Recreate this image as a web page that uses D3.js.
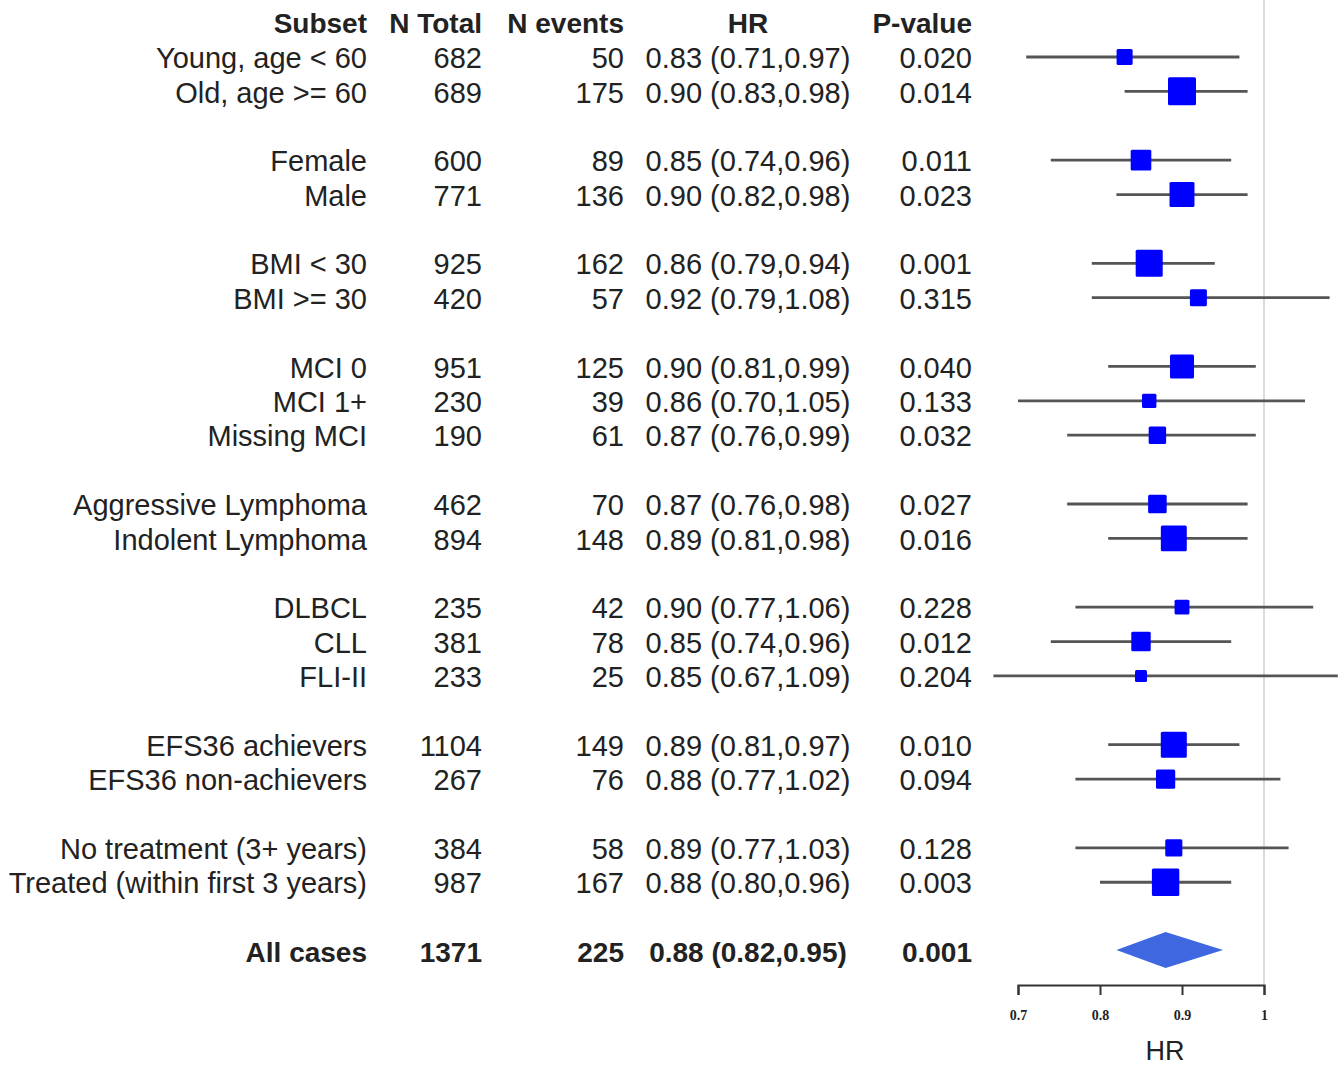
<!DOCTYPE html>
<meta charset="utf-8">
<script src="https://d3js.org/d3.v7.min.js"></script>
<style>
  body { margin: 0; background: #fff; }
  text { font-family: "Liberation Sans", Arial, sans-serif; fill: #222; }
</style>
<div id="my_dataviz"></div>
<script>

// data
var subsets = ["Young, age < 60", "Old, age >= 60", "Female", "Male", "BMI < 30", "BMI >= 30",
  "MCI 0", "MCI 1+", "Missing MCI", "Aggressive Lymphoma", "Indolent Lymphoma",
  "DLBCL", "CLL", "FLI-II", "EFS36 achievers", "EFS36 non-achievers",
  "No treatment (3+ years)", "Treated (within first 3 years)"];
var groups  = [0, 0, 1, 1, 2, 2, 3, 3, 3, 4, 4, 5, 5, 5, 6, 6, 7, 7];
var nTotal  = [682, 689, 600, 771, 925, 420, 951, 230, 190, 462, 894, 235, 381, 233, 1104, 267, 384, 987];
var nEvents = [50, 175, 89, 136, 162, 57, 125, 39, 61, 70, 148, 42, 78, 25, 149, 76, 58, 167];
var hr      = [0.83, 0.90, 0.85, 0.90, 0.86, 0.92, 0.90, 0.86, 0.87, 0.87, 0.89, 0.90, 0.85, 0.85, 0.89, 0.88, 0.89, 0.88];
var lower   = [0.71, 0.83, 0.74, 0.82, 0.79, 0.79, 0.81, 0.70, 0.76, 0.76, 0.81, 0.77, 0.74, 0.67, 0.81, 0.77, 0.77, 0.80];
var upper   = [0.97, 0.98, 0.96, 0.98, 0.94, 1.08, 0.99, 1.05, 0.99, 0.98, 0.98, 1.06, 0.96, 1.09, 0.97, 1.02, 1.03, 0.96];
var pvals   = ["0.020", "0.014", "0.011", "0.023", "0.001", "0.315", "0.040", "0.133", "0.032",
  "0.027", "0.016", "0.228", "0.012", "0.204", "0.010", "0.094", "0.128", "0.003"];

// overall summary
var allLabel = "All cases", allTotal = 1371, allEvents = 225;
var allHR = 0.88, allLower = 0.82, allUpper = 0.95, allP = "0.001";

var headers = ["Subset", "N Total", "N events", "HR", "P-value"];
var hrTicks = [0.7, 0.8, 0.9, 1];

var width = 1344, height = 1069;

var svg = d3.select("#my_dataviz")
  .append("svg")
    .attr("width", width)
    .attr("height", height);

var fmt = d3.format(".2f");
var rows = subsets.map(function(s, i) {
  return {label: s, row: i + groups[i], total: nTotal[i], events: nEvents[i],
          hr: hr[i], lo: lower[i], hi: upper[i], p: pvals[i]};
});
var lastRow = d3.max(rows, function(d) { return d.row; }) + 2;

// scales
var x = d3.scaleLinear().domain([0.7, 1]).range([1018, 1264]);
var y = d3.scaleLinear().domain([-1, lastRow]).range([23.6, 952]);
var box = d3.scaleLinear()
    .domain([Math.sqrt(25), Math.sqrt(175)])
    .range([12, 28]);

// reference line at HR = 1
svg.append("line")
    .attr("x1", x(1)).attr("x2", x(1))
    .attr("y1", 0).attr("y2", 985)
    .attr("stroke", "#cfcfcf")
    .attr("stroke-width", 1.5);

// header
var colX = [367, 482, 624, 748, 972];
var colAnchor = ["end", "end", "end", "middle", "end"];
svg.selectAll(".hdr")
  .data(headers)
  .enter()
  .append("text")
    .attr("x", function(d, i) { return colX[i]; })
    .attr("y", y(-1))
    .attr("dy", "0.35em")
    .attr("text-anchor", function(d, i) { return colAnchor[i]; })
    .style("font-size", "28px")
    .style("font-weight", "bold")
    .text(function(d) { return d; });

// table text
function addRowText(d, bold) {
  var vals = [d.label, d.total, d.events,
    fmt(d.hr) + " (" + fmt(d.lo) + "," + fmt(d.hi) + ")", d.p];
  vals.forEach(function(v, i) {
    svg.append("text")
      .attr("x", colX[i])
      .attr("y", y(d.row))
      .attr("dy", "0.35em")
      .attr("text-anchor", colAnchor[i])
      .style("font-size", bold ? "28px" : "29px")
      .style("font-weight", bold ? "bold" : "normal")
      .text(v);
  });
}
rows.forEach(function(d) { addRowText(d, false); });
addRowText({label: allLabel, row: lastRow, total: allTotal, events: allEvents,
            hr: allHR, lo: allLower, hi: allUpper, p: allP}, true);

// confidence intervals
svg.selectAll(".ci")
  .data(rows)
  .enter()
  .append("line")
    .attr("x1", function(d) { return x(d.lo); })
    .attr("x2", function(d) { return x(d.hi); })
    .attr("y1", function(d) { return y(d.row) - 1; })
    .attr("y2", function(d) { return y(d.row) - 1; })
    .attr("stroke", "#555")
    .attr("stroke-width", 2.8);

// point estimates
svg.selectAll(".box")
  .data(rows)
  .enter()
  .append("rect")
    .attr("x", function(d) { return x(d.hr) - box(Math.sqrt(d.events)) / 2; })
    .attr("y", function(d) { return y(d.row) - 1 - box(Math.sqrt(d.events)) / 2; })
    .attr("width", function(d) { return box(Math.sqrt(d.events)); })
    .attr("height", function(d) { return box(Math.sqrt(d.events)); })
    .attr("rx", 1.5)
    .style("fill", "#0000ff");

// summary diamond
var yc = y(lastRow) - 2;
svg.append("path")
    .attr("d", "M" + x(allLower) + "," + yc +
               "L" + x(allHR) + "," + (yc - 18) +
               "L" + x(allUpper) + "," + yc +
               "L" + x(allHR) + "," + (yc + 18) + "Z")
    .style("fill", "#3f68e0");

// x axis
var axis = svg.append("g")
    .attr("transform", "translate(0,985)")
    .call(d3.axisBottom(x).tickValues(hrTicks).tickSize(10).tickPadding(15)
      .tickFormat(function(d) { return String(d); }));
axis.select(".domain").attr("stroke", "#333").attr("stroke-width", 2);
axis.selectAll(".tick line").attr("stroke", "#333").attr("stroke-width", 2);
axis.selectAll(".tick text")
    .style("font-family", "'Liberation Serif', serif")
    .style("font-size", "14px")
    .style("font-weight", "bold")
    .style("fill", "#222");

svg.append("text")
    .attr("x", 1165)
    .attr("y", 1051)
    .attr("dy", "0.35em")
    .attr("text-anchor", "middle")
    .style("font-size", "27px")
    .text("HR");

</script>
